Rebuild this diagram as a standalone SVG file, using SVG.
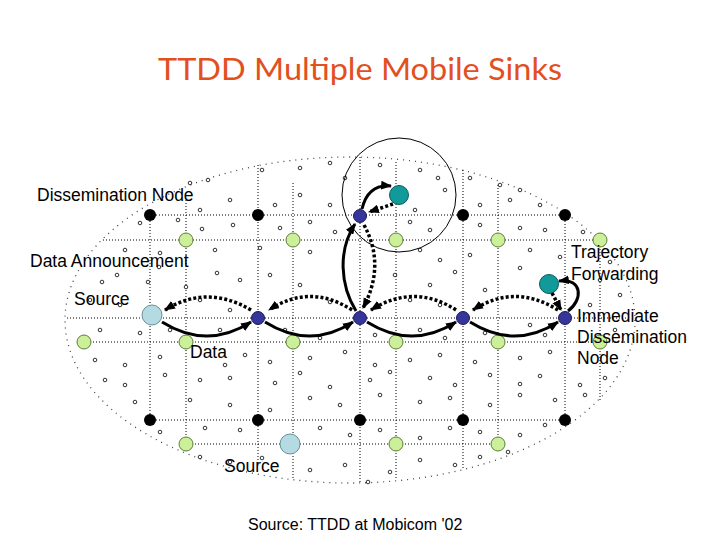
<svg xmlns="http://www.w3.org/2000/svg" width="720" height="540" viewBox="0 0 720 540">
<style>
.grid{stroke:#000;stroke-width:1;stroke-dasharray:1 2;fill:none}
.field{stroke:#444;stroke-width:1.3;stroke-dasharray:1 5;fill:none}
.s{fill:#fff;stroke:#000;stroke-width:0.8}
.blk{fill:#000}
.grn{fill:#ccf09a;stroke:#5d7d3c;stroke-width:1}
.blu{fill:#35359a;stroke:#1c1c5e;stroke-width:1}
.teal{fill:#129a9a;stroke:#0b5c5c;stroke-width:1}
.src{fill:#b4dbe2;stroke:#6a9098;stroke-width:1}
.solid{stroke:#000;stroke-width:3;fill:none;marker-end:url(#ah)}
.dot{stroke:#000;stroke-width:3.5;stroke-dasharray:3 2.2;fill:none;marker-end:url(#ah)}
.lbl{font-family:"Liberation Sans",Arial,sans-serif;font-size:17.5px;fill:#000}
</style>
<defs>
<marker id="ah" viewBox="0 0 10 8" refX="9" refY="4" markerWidth="11" markerHeight="9" markerUnits="userSpaceOnUse" orient="auto"><path d="M0,0 L10,4 L0,8 z" fill="#000"/></marker>
</defs>
<rect width="720" height="540" fill="#fff"/>
<text x="360" y="80" text-anchor="middle" font-family="Lato,'Open Sans',sans-serif" font-size="30" fill="#e2501e" textLength="404" lengthAdjust="spacingAndGlyphs">TTDD Multiple Mobile Sinks</text>

<g id="field">
<ellipse class="field" cx="350" cy="320" rx="285" ry="163"/>
</g>
<g id="grid">
<path class="grid" d="M150,215H565 M103,240H600 M67,318H630 M84,342H625 M150,420H565 M186,444H498"/>
<path class="grid" d="M150,215V420 M186,200V444 M258,165V465 M293,183V478 M360,157V482 M396,162V478 M463,170V470 M498,185V444 M565,215V420 M600,240V400"/>
</g>
<g id="sensors">
<circle class="s" r="1.8" cx="208" cy="180"/><circle class="s" r="1.8" cx="190" cy="183"/><circle class="s" r="1.8" cx="262" cy="170"/><circle class="s" r="1.8" cx="300" cy="168"/><circle class="s" r="1.8" cx="330" cy="163"/><circle class="s" r="1.8" cx="345" cy="178"/><circle class="s" r="1.8" cx="380" cy="165"/><circle class="s" r="1.8" cx="420" cy="170"/><circle class="s" r="1.8" cx="438" cy="178"/><circle class="s" r="1.8" cx="470" cy="178"/><circle class="s" r="1.8" cx="500" cy="185"/><circle class="s" r="1.8" cx="520" cy="190"/>
<circle class="s" r="1.8" cx="230" cy="200"/><circle class="s" r="1.8" cx="275" cy="205"/><circle class="s" r="1.8" cx="300" cy="195"/><circle class="s" r="1.8" cx="330" cy="205"/><circle class="s" r="1.8" cx="415" cy="210"/><circle class="s" r="1.8" cx="445" cy="190"/><circle class="s" r="1.8" cx="480" cy="205"/><circle class="s" r="1.8" cx="510" cy="200"/><circle class="s" r="1.8" cx="540" cy="205"/><circle class="s" r="1.8" cx="200" cy="210"/>
<circle class="s" r="1.8" cx="140" cy="223"/><circle class="s" r="1.8" cx="178" cy="220"/><circle class="s" r="1.8" cx="202" cy="229"/><circle class="s" r="1.8" cx="233" cy="225"/><circle class="s" r="1.8" cx="280" cy="228"/><circle class="s" r="1.8" cx="310" cy="222"/><circle class="s" r="1.8" cx="335" cy="232"/><circle class="s" r="1.8" cx="410" cy="222"/><circle class="s" r="1.8" cx="430" cy="230"/><circle class="s" r="1.8" cx="480" cy="225"/><circle class="s" r="1.8" cx="520" cy="228"/><circle class="s" r="1.8" cx="545" cy="230"/><circle class="s" r="1.8" cx="583" cy="232"/>
<circle class="s" r="1.8" cx="125" cy="250"/><circle class="s" r="1.8" cx="160" cy="253"/><circle class="s" r="1.8" cx="215" cy="250"/><circle class="s" r="1.8" cx="260" cy="248"/><circle class="s" r="1.8" cx="310" cy="252"/><circle class="s" r="1.8" cx="420" cy="250"/><circle class="s" r="1.8" cx="440" cy="260"/><circle class="s" r="1.8" cx="470" cy="255"/><circle class="s" r="1.8" cx="530" cy="250"/><circle class="s" r="1.8" cx="560" cy="257"/><circle class="s" r="1.8" cx="610" cy="262"/>
<circle class="s" r="1.8" cx="102" cy="282"/><circle class="s" r="1.8" cx="117" cy="275"/><circle class="s" r="1.8" cx="148" cy="282"/><circle class="s" r="1.8" cx="159" cy="267"/><circle class="s" r="1.8" cx="186" cy="287"/><circle class="s" r="1.8" cx="217" cy="273"/><circle class="s" r="1.8" cx="240" cy="280"/><circle class="s" r="1.8" cx="270" cy="275"/><circle class="s" r="1.8" cx="300" cy="285"/><circle class="s" r="1.8" cx="395" cy="275"/><circle class="s" r="1.8" cx="430" cy="285"/><circle class="s" r="1.8" cx="455" cy="272"/><circle class="s" r="1.8" cx="485" cy="290"/><circle class="s" r="1.8" cx="520" cy="268"/><circle class="s" r="1.8" cx="600" cy="280"/><circle class="s" r="1.8" cx="620" cy="295"/>
<circle class="s" r="1.8" cx="90" cy="300"/><circle class="s" r="1.8" cx="120" cy="305"/><circle class="s" r="1.8" cx="200" cy="300"/><circle class="s" r="1.8" cx="230" cy="310"/><circle class="s" r="1.8" cx="330" cy="302"/><circle class="s" r="1.8" cx="410" cy="300"/><circle class="s" r="1.8" cx="440" cy="305"/><circle class="s" r="1.8" cx="590" cy="305"/>
<circle class="s" r="1.8" cx="100" cy="330"/><circle class="s" r="1.8" cx="140" cy="333"/><circle class="s" r="1.8" cx="170" cy="330"/><circle class="s" r="1.8" cx="220" cy="330"/><circle class="s" r="1.8" cx="285" cy="330"/><circle class="s" r="1.8" cx="320" cy="338"/><circle class="s" r="1.8" cx="375" cy="335"/><circle class="s" r="1.8" cx="420" cy="330"/><circle class="s" r="1.8" cx="445" cy="338"/><circle class="s" r="1.8" cx="485" cy="333"/><circle class="s" r="1.8" cx="530" cy="325"/><circle class="s" r="1.8" cx="545" cy="335"/><circle class="s" r="1.8" cx="615" cy="330"/>
<circle class="s" r="1.8" cx="95" cy="360"/><circle class="s" r="1.8" cx="125" cy="365"/><circle class="s" r="1.8" cx="160" cy="357"/><circle class="s" r="1.8" cx="225" cy="365"/><circle class="s" r="1.8" cx="245" cy="355"/><circle class="s" r="1.8" cx="270" cy="362"/><circle class="s" r="1.8" cx="310" cy="358"/><circle class="s" r="1.8" cx="345" cy="352"/><circle class="s" r="1.8" cx="375" cy="365"/><circle class="s" r="1.8" cx="410" cy="360"/><circle class="s" r="1.8" cx="440" cy="355"/><circle class="s" r="1.8" cx="475" cy="362"/><circle class="s" r="1.8" cx="520" cy="358"/><circle class="s" r="1.8" cx="550" cy="352"/>
<circle class="s" r="1.8" cx="105" cy="380"/><circle class="s" r="1.8" cx="125" cy="385"/><circle class="s" r="1.8" cx="165" cy="375"/><circle class="s" r="1.8" cx="200" cy="380"/><circle class="s" r="1.8" cx="230" cy="378"/><circle class="s" r="1.8" cx="275" cy="383"/><circle class="s" r="1.8" cx="300" cy="373"/><circle class="s" r="1.8" cx="330" cy="387"/><circle class="s" r="1.8" cx="370" cy="380"/><circle class="s" r="1.8" cx="390" cy="372"/><circle class="s" r="1.8" cx="430" cy="378"/><circle class="s" r="1.8" cx="455" cy="385"/><circle class="s" r="1.8" cx="490" cy="375"/><circle class="s" r="1.8" cx="520" cy="384"/><circle class="s" r="1.8" cx="540" cy="376"/><circle class="s" r="1.8" cx="580" cy="385"/><circle class="s" r="1.8" cx="605" cy="378"/>
<circle class="s" r="1.8" cx="135" cy="402"/><circle class="s" r="1.8" cx="190" cy="400"/><circle class="s" r="1.8" cx="230" cy="405"/><circle class="s" r="1.8" cx="270" cy="410"/><circle class="s" r="1.8" cx="310" cy="398"/><circle class="s" r="1.8" cx="340" cy="405"/><circle class="s" r="1.8" cx="380" cy="395"/><circle class="s" r="1.8" cx="420" cy="402"/><circle class="s" r="1.8" cx="450" cy="398"/><circle class="s" r="1.8" cx="490" cy="405"/><circle class="s" r="1.8" cx="520" cy="395"/><circle class="s" r="1.8" cx="555" cy="400"/><circle class="s" r="1.8" cx="585" cy="395"/>
<circle class="s" r="1.8" cx="160" cy="432"/><circle class="s" r="1.8" cx="205" cy="428"/><circle class="s" r="1.8" cx="240" cy="430"/><circle class="s" r="1.8" cx="320" cy="428"/><circle class="s" r="1.8" cx="350" cy="435"/><circle class="s" r="1.8" cx="380" cy="430"/><circle class="s" r="1.8" cx="420" cy="438"/><circle class="s" r="1.8" cx="450" cy="428"/><circle class="s" r="1.8" cx="480" cy="432"/><circle class="s" r="1.8" cx="520" cy="435"/><circle class="s" r="1.8" cx="545" cy="425"/>
<circle class="s" r="1.8" cx="200" cy="457"/><circle class="s" r="1.8" cx="230" cy="462"/><circle class="s" r="1.8" cx="262" cy="458"/><circle class="s" r="1.8" cx="310" cy="470"/><circle class="s" r="1.8" cx="345" cy="465"/><circle class="s" r="1.8" cx="390" cy="472"/><circle class="s" r="1.8" cx="420" cy="460"/><circle class="s" r="1.8" cx="455" cy="465"/><circle class="s" r="1.8" cx="480" cy="457"/><circle class="s" r="1.8" cx="508" cy="452"/><circle class="s" r="1.8" cx="368" cy="482"/>
</g>
<g id="sink-range"><circle cx="399" cy="195" r="57" fill="none" stroke="#000" stroke-width="1"/></g>

<g id="dissemination-nodes">
<circle class="blk" cx="150" cy="215" r="6"/><circle class="blk" cx="258" cy="215" r="6"/><circle class="blk" cx="463" cy="215" r="6"/><circle class="blk" cx="565" cy="215" r="6"/>
<circle class="blk" cx="150" cy="420" r="6"/><circle class="blk" cx="258" cy="420" r="6"/><circle class="blk" cx="360" cy="420" r="6"/><circle class="blk" cx="463" cy="420" r="6"/><circle class="blk" cx="565" cy="420" r="6"/>
</g>
<g id="grid-nodes">
<circle class="grn" cx="186" cy="240" r="7"/><circle class="grn" cx="293" cy="240" r="7"/><circle class="grn" cx="396" cy="240" r="7"/><circle class="grn" cx="498" cy="240" r="7"/><circle class="grn" cx="600" cy="240" r="7"/>
<circle class="grn" cx="84" cy="342" r="7"/><circle class="grn" cx="186" cy="342" r="7"/><circle class="grn" cx="293" cy="342" r="7"/><circle class="grn" cx="396" cy="342" r="7"/><circle class="grn" cx="498" cy="342" r="7"/><circle class="grn" cx="600" cy="342" r="7"/>
<circle class="grn" cx="186" cy="444" r="7"/><circle class="grn" cx="396" cy="444" r="7"/><circle class="grn" cx="498" cy="444" r="7"/>
</g>
<g id="source-1"><circle class="src" cx="152" cy="315" r="10"/></g>
<g id="source-2"><circle class="src" cx="290" cy="444" r="10"/></g>
<g id="idn-top"><circle class="blu" cx="360" cy="216" r="6.5"/></g>
<g id="dn-258"><circle class="blu" cx="258" cy="318" r="6.5"/></g>
<g id="dn-360"><circle class="blu" cx="360" cy="318" r="6.5"/></g>
<g id="dn-463"><circle class="blu" cx="463" cy="318" r="6.5"/></g>
<g id="idn-right"><circle class="blu" cx="565" cy="318" r="6.5"/></g>
<g id="sink-1"><circle class="teal" cx="399" cy="195" r="9.5"/></g>
<g id="sink-2"><circle class="teal" cx="549" cy="284" r="9.5"/></g>

<g id="connectors">
<path class="solid" d="M162,322 Q207,350 251,322"/>
<path class="solid" d="M265,322 Q310,350 353,322"/>
<path class="solid" d="M367,322 Q412,350 456,322"/>
<path class="solid" d="M470,322 Q515,350 558,322"/>
<path class="solid" d="M356,311 C340,285 338,250 355,224"/>
<path class="solid" d="M362,209 Q368,184 391,186"/>
<path class="solid" d="M568,311 C583,300 583,278 559,281"/>
<path class="dot" d="M393,204 L369,212"/>
<path class="dot" d="M364,225 Q386,265 363,308"/>
<path class="dot" d="M352,310 Q310,283 269,310"/>
<path class="dot" d="M251,310 Q207,284 165,310"/>
<path class="dot" d="M456,310 Q414,283 371,310"/>
<path class="dot" d="M558,310 Q515,283 473,310"/>
<path class="dot" d="M552,293 L561,310"/>
</g>

<g id="labels">
<text class="lbl" x="37" y="201">Dissemination Node</text>
<text class="lbl" x="30" y="267">Data Announcement</text>
<text class="lbl" x="74" y="305">Source</text>
<text class="lbl" x="190" y="358">Data</text>
<text class="lbl" x="224" y="472">Source</text>
<text class="lbl" x="571" y="258">Trajectory</text>
<text class="lbl" x="571" y="280">Forwarding</text>
<text class="lbl" x="577" y="322">Immediate</text>
<text class="lbl" x="577" y="343">Dissemination</text>
<text class="lbl" x="577" y="364">Node</text>
<text x="248" y="530" font-family="'Liberation Sans',Arial,sans-serif" font-size="16" fill="#000">Source: TTDD at Mobicom '02</text>
</g>
</svg>
